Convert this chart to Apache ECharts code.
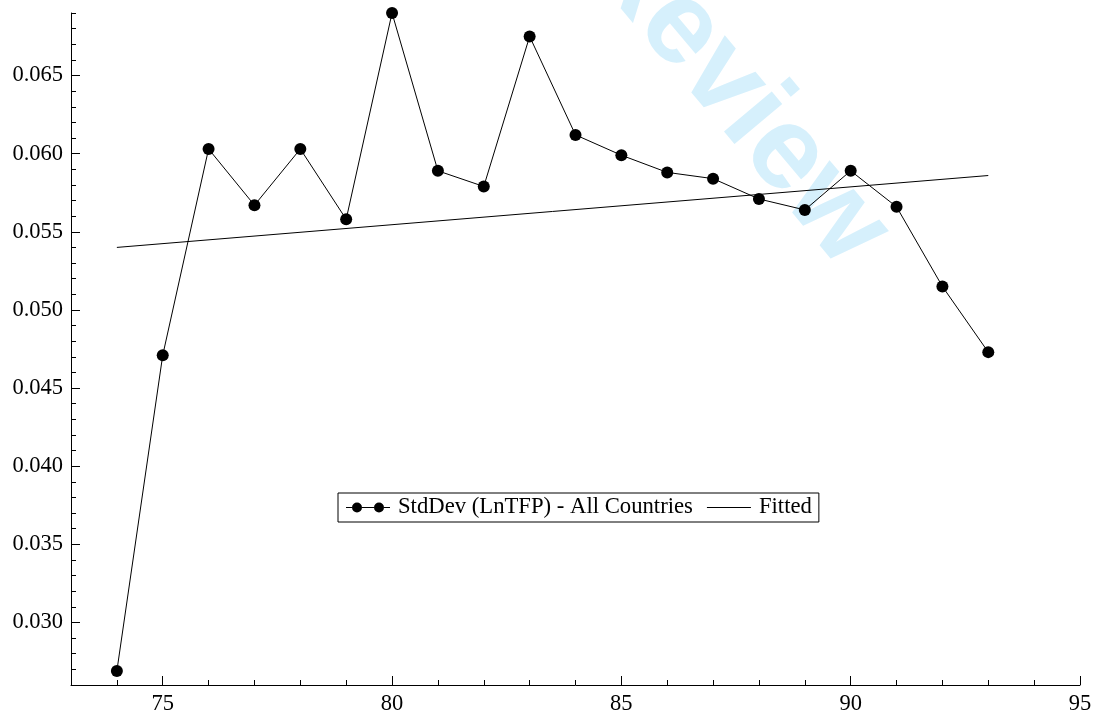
<!DOCTYPE html>
<html>
<head>
<meta charset="utf-8">
<script src="https://cdn.jsdelivr.net/npm/echarts@6/dist/echarts.min.js"></script>
<style>
  html, body { margin: 0; padding: 0; background: #fff; }
  #chart { width: 1098px; height: 716px; }
</style>
</head>
<body>
<div id="chart"></div>
<script>
// ---- data ----
const years = [74, 75, 76, 77, 78, 79, 80, 81, 82, 83, 84, 85, 86, 87, 88, 89, 90, 91, 92, 93];
const stdDev = [0.0269, 0.0471, 0.0603, 0.0567, 0.0603, 0.0558, 0.0690, 0.0589, 0.0579, 0.0675,
                0.0612, 0.0599, 0.0588, 0.0584, 0.0571, 0.0564, 0.0589, 0.0566, 0.0515, 0.0473];
const fittedYears = [74, 93];
const fittedValues = [0.0540, 0.0586];
const xTickLabels = [75, 80, 85, 90, 95];
const yTickLabels = [0.030, 0.035, 0.040, 0.045, 0.050, 0.055, 0.060, 0.065];
const seriesNames = ['StdDev (LnTFP) - All Countries', 'Fitted'];

const FONT = "'Liberation Serif', 'Times New Roman', serif";
const chart = echarts.init(document.getElementById('chart'), null, { renderer: 'canvas' });

const axisLineStyle = { show: true, lineStyle: { color: '#000', width: 1 } };
const twoDots = 'path://M0,4.4 L6,4.4 L6,5.6 L0,5.6 Z M16,4.4 L28,4.4 L28,5.6 L16,5.6 Z M38,4.4 L44,4.4 L44,5.6 L38,5.6 Z ' +
  'M6,5 A5,5 0 1 1 16,5 A5,5 0 1 1 6,5 Z M28,5 A5,5 0 1 1 38,5 A5,5 0 1 1 28,5 Z';
const thinLine = 'path://M0,0 L44,0 L44,1 L0,1 Z';

chart.setOption({
  animation: false,
  backgroundColor: '#fff',
  graphic: [{
    type: 'text',
    x: 866, y: 250,
    rotation: -50 * Math.PI / 180,
    z: -10,
    silent: true,
    style: {
      text: 'Review',
      font: "bold 118px 'Liberation Sans', Arial, sans-serif",
      fill: '#d6f0fc',
      textAlign: 'right',
      textVerticalAlign: 'middle'
    }
  }],
  grid: { left: 71, right: 18, top: 13, bottom: 31, containLabel: false },
  legend: {
    left: 338, top: 493,
    orient: 'horizontal',
    borderColor: '#000', borderWidth: 1,
    padding: [3, 7, 3, 8],
    itemGap: 14,
    itemWidth: 44, itemHeight: 10,
    textStyle: { fontFamily: FONT, fontSize: 22.7, color: '#000', padding: [0, 0, 0, 3] },
    data: [{ name: seriesNames[0], icon: twoDots }, { name: seriesNames[1], icon: thinLine }]
  },
  xAxis: [{
    type: 'value', min: 73, max: 95, position: 'bottom',
    axisLine: axisLineStyle,
    splitLine: { show: false },
    axisTick: { show: true, inside: true, length: 9, customValues: xTickLabels, lineStyle: { color: '#000' } },
    axisLabel: { customValues: xTickLabels, fontFamily: FONT, fontSize: 22.5, color: '#000', margin: 8 }
  }, {
    type: 'value', min: 73, max: 95, interval: 1, position: 'bottom',
    axisLine: { show: false },
    splitLine: { show: false },
    axisTick: { show: true, inside: true, length: 5, lineStyle: { color: '#000' } },
    axisLabel: { show: false }
  }],
  yAxis: [{
    type: 'value', min: 0.026, max: 0.069, position: 'left',
    axisLine: axisLineStyle,
    splitLine: { show: false },
    axisTick: { show: true, inside: true, length: 9, customValues: yTickLabels, lineStyle: { color: '#000' } },
    axisLabel: {
      customValues: yTickLabels, fontFamily: FONT, fontSize: 22.5, color: '#000', margin: 8,
      formatter: v => v.toFixed(3)
    }
  }, {
    type: 'value', min: 0.026, max: 0.069, interval: 0.001, position: 'left',
    axisLine: { show: false },
    splitLine: { show: false },
    axisTick: { show: true, inside: true, length: 5, lineStyle: { color: '#000' } },
    axisLabel: { show: false }
  }],
  series: [{
    name: seriesNames[0],
    type: 'line',
    xAxisIndex: 0, yAxisIndex: 0,
    data: years.map((y, i) => [y, stdDev[i]]),
    symbol: 'circle', symbolSize: 12, showAllSymbol: true,
    itemStyle: { color: '#000', borderWidth: 0 },
    lineStyle: { color: '#000', width: 1 },
    emphasis: { disabled: true },
    z: 3
  }, {
    name: seriesNames[1],
    type: 'line',
    xAxisIndex: 0, yAxisIndex: 0,
    data: fittedYears.map((y, i) => [y, fittedValues[i]]),
    symbol: 'none',
    itemStyle: { color: '#000' },
    lineStyle: { color: '#000', width: 1 },
    emphasis: { disabled: true },
    z: 2
  }]
});
</script>
</body>
</html>
